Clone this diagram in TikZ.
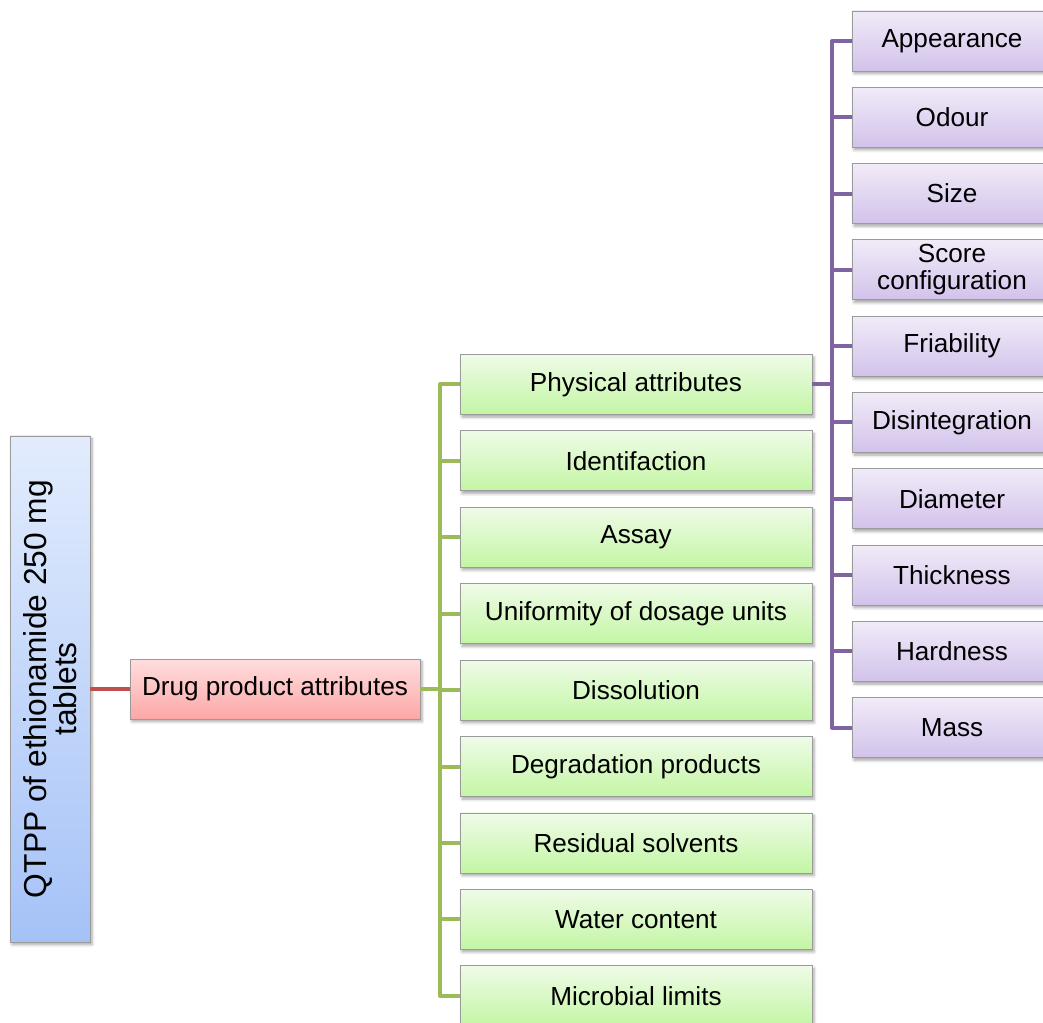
\documentclass[tikz,border=0pt]{standalone}
\usepackage{fontspec}
\setmainfont{Liberation Sans}
\usetikzlibrary{shadows.blur}

\definecolor{edgegray}{HTML}{9A9A9A}
\definecolor{rootTop}{HTML}{E2ECFD}
\definecolor{rootBot}{HTML}{A5C2F7}
\definecolor{redTop}{HTML}{FFDEDE}
\definecolor{redBot}{HTML}{FCA7A7}
\definecolor{greenTop}{HTML}{EFFBE8}
\definecolor{greenBot}{HTML}{C3F6A4}
\definecolor{purpleTop}{HTML}{F1EBF8}
\definecolor{purpleBot}{HTML}{D2C2EB}
\definecolor{redLine}{HTML}{C0504D}
\definecolor{greenLine}{HTML}{9BBB59}
\definecolor{purpleLine}{HTML}{8064A2}

\tikzset{
  box/.style={draw=edgegray, line width=0.6pt, align=center, inner sep=0pt,
    font=\fontsize{19.6}{20}\selectfont,
    blur shadow={shadow xshift=1.5pt, shadow yshift=-2pt, shadow blur steps=5, shadow opacity=35}},
  rootbox/.style={box, top color=rootTop, bottom color=rootBot,
    minimum width=60pt, minimum height=379.5pt},
  rootlabel/.style={rotate=90, align=center, inner sep=0pt,
    font=\fontsize{23.8}{22.8}\selectfont},
  drugbox/.style={box, top color=redTop, bottom color=redBot,
    minimum width=217.5pt, minimum height=45pt},
  attrbox/.style={box, top color=greenTop, bottom color=greenBot,
    minimum width=264pt, minimum height=45pt},
  physbox/.style={box, top color=purpleTop, bottom color=purpleBot,
    minimum width=150pt, minimum height=45pt},
  link/.style={line width=3pt, line join=round},
}

\begin{document}
\begin{tikzpicture}[x=0.75pt, y=-0.75pt]
\useasboundingbox (0,0) rectangle (1043,1023);

% root and first level
\node[rootbox] (root) at (50,689) {};
\node[rootlabel] (rootlabel) at (root.center) {QTPP of ethionamide 250 mg\\tablets};
\node[drugbox] (drug) at (275,689) {Drug product attributes};

% product attributes
\foreach \name/\txt [count=\i from 0] in {
  g1/Physical attributes, g2/Identifaction, g3/Assay,
  g4/Uniformity of dosage units, g5/Dissolution, g6/Degradation products,
  g7/Residual solvents, g8/Water content, g9/Microbial limits}
  \node[attrbox] (\name) at (636,{384.5+76.4*\i}) {\txt};

% physical attributes
\foreach \name/\txt [count=\i from 0] in {
  p1/Appearance, p2/Odour, p3/Size, p4/{Score\\configuration}, p5/Friability,
  p6/Disintegration, p7/Diameter, p8/Thickness, p9/Hardness, p10/Mass}
  \node[physbox] (\name) at (952,{41+76.3*\i}) {\txt};

% connectors
\coordinate (gbus) at (440,0);
\coordinate (pbus) at (832,0);

\draw[link, redLine] (root.east |- drug.west) -- (drug.west);

\draw[link, greenLine] (drug.east) -- (drug.east -| gbus);
\draw[link, greenLine] (g1.west) -- (g1.west -| gbus) -- (g9.west -| gbus) -- (g9.west);
\foreach \n in {g2,g3,g4,g5,g6,g7,g8}
  \draw[link, greenLine] (\n.west -| gbus) -- (\n.west);

\draw[link, purpleLine] (g1.east) -- (g1.east -| pbus);
\draw[link, purpleLine] (p1.west) -- (p1.west -| pbus) -- (p10.west -| pbus) -- (p10.west);
\foreach \n in {p2,p3,p4,p5,p6,p7,p8,p9}
  \draw[link, purpleLine] (\n.west -| pbus) -- (\n.west);
\end{tikzpicture}
\end{document}
